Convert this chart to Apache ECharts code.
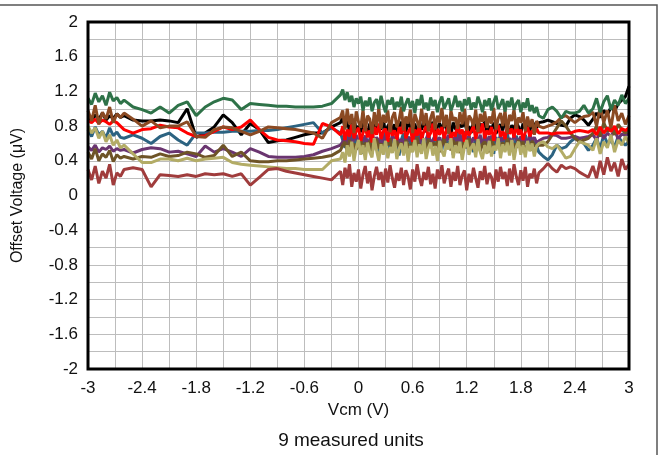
<!DOCTYPE html>
<html>
<head>
<meta charset="utf-8">
<script src="https://cdn.jsdelivr.net/npm/echarts@6/dist/echarts.min.js"></script>
<style>html,body{margin:0;padding:0;background:#fff}#c{width:660px;height:455px}</style>
</head>
<body>
<div id="c"></div>
<script>
// Vcm sample points (V)
const vcm = [
 -3.00,-2.96,-2.92,-2.88,-2.84,-2.80,-2.76,-2.72,-2.68,-2.64,-2.60,
 -2.50,-2.40,-2.30,-2.20,-2.10,-2.00,-1.90,-1.80,-1.70,-1.60,-1.50,-1.40,-1.30,-1.20,-1.10,-1.00,-0.90,-0.80,-0.70,-0.60,-0.50,-0.40,-0.30,
 -0.200,-0.175,-0.150,-0.125,-0.100,-0.075,-0.050,-0.025,
 0.000,0.025,0.050,0.075,0.100,0.125,0.150,0.175,
 0.200,0.225,0.250,0.275,0.300,0.325,0.350,0.375,
 0.400,0.425,0.450,0.475,0.500,0.525,0.550,0.575,
 0.600,0.625,0.650,0.675,0.700,0.725,0.750,0.775,
 0.800,0.825,0.850,0.875,0.900,0.925,0.950,0.975,
 1.000,1.025,1.050,1.075,1.100,1.125,1.150,1.175,
 1.200,1.225,1.250,1.275,1.300,1.325,1.350,1.375,
 1.400,1.425,1.450,1.475,1.500,1.525,1.550,1.575,
 1.600,1.625,1.650,1.675,1.700,1.725,1.750,1.775,
 1.800,1.825,1.850,1.875,1.900,1.925,1.950,1.975,
 2.000,
 2.05,2.10,2.15,2.20,2.25,2.30,2.35,2.40,2.45,2.50,2.55,
 2.60,2.64,2.68,2.72,2.76,2.80,2.84,2.88,2.92,2.96,3.00
];
// Offset voltage of each measured unit (uV)
const unitGreen = [
 1.12,1.05,1.18,1.08,1.15,1.04,1.19,1.09,1.13,1.06,1.10,
 1.02,0.99,0.95,1.02,0.95,1.04,1.08,0.92,1.02,1.08,1.12,1.10,0.99,1.06,1.05,1.04,1.03,1.03,1.02,1.02,1.02,1.03,1.06,
 1.16,1.22,1.10,1.19,1.08,1.15,1.02,1.12,
 1.06,1.14,0.98,1.09,1.03,1.13,0.97,1.07,
 1.11,1.00,1.15,1.04,0.96,1.10,1.05,1.13,
 0.99,1.08,1.02,1.14,0.97,1.06,1.12,1.01,
 1.09,0.95,1.11,1.04,1.16,1.00,1.07,0.98,
 1.13,1.03,1.10,0.96,1.08,1.14,1.00,1.06,
 1.12,0.98,1.05,1.15,1.02,1.09,0.97,1.11,
 1.04,1.13,0.99,1.07,1.01,1.14,1.06,0.96,
 1.10,1.03,1.12,0.98,1.08,1.15,1.00,1.05,
 1.11,0.97,1.09,1.02,1.13,0.99,1.06,1.10,
 0.96,1.07,1.01,1.12,0.97,1.04,0.95,1.02,
 0.92,
 0.89,0.99,1.02,0.97,0.89,0.97,0.95,0.95,0.97,1.04,0.95,
 1.00,1.12,0.96,1.08,1.15,0.99,1.10,1.04,1.16,1.06,1.12
];
const unitBlack = [
 0.90,0.86,0.93,0.88,0.95,0.87,0.92,0.89,0.94,0.90,0.92,
 0.87,0.86,0.86,0.87,0.86,0.84,1.00,0.67,0.72,0.79,0.93,0.84,0.70,0.83,0.76,0.61,0.63,0.64,0.67,0.70,0.72,0.72,0.79,
 0.84,0.90,0.78,0.86,0.74,0.82,0.88,0.76,
 0.80,0.73,0.85,0.79,0.71,0.83,0.77,0.86,
 0.74,0.81,0.76,0.87,0.72,0.80,0.84,0.75,
 0.82,0.70,0.79,0.85,0.77,0.73,0.86,0.78,
 0.74,0.83,0.71,0.80,0.76,0.88,0.73,0.81,
 0.78,0.85,0.72,0.79,0.83,0.74,0.87,0.76,
 0.81,0.70,0.84,0.77,0.73,0.82,0.79,0.86,
 0.75,0.80,0.72,0.85,0.78,0.74,0.83,0.77,
 0.86,0.73,0.80,0.76,0.84,0.71,0.79,0.82,
 0.75,0.87,0.78,0.73,0.81,0.76,0.85,0.79,
 0.72,0.83,0.77,0.80,0.74,0.86,0.81,0.78,
 0.84,
 0.85,0.87,0.85,0.83,0.81,0.80,0.89,0.93,0.91,0.87,0.81,
 0.88,0.95,0.90,0.98,0.93,1.02,0.97,1.06,1.10,1.14,1.26
];
const unitRed = [
 0.86,0.84,0.88,0.83,0.87,0.85,0.82,0.86,0.84,0.80,0.76,
 0.72,0.76,0.77,0.81,0.79,0.78,0.72,0.68,0.69,0.74,0.79,0.76,0.79,0.87,0.76,0.67,0.64,0.63,0.62,0.60,0.59,0.83,0.79,
 0.70,0.80,0.64,0.76,0.68,0.82,0.66,0.74,
 0.78,0.63,0.72,0.80,0.67,0.75,0.61,0.79,
 0.70,0.83,0.65,0.74,0.77,0.62,0.81,0.69,
 0.75,0.64,0.79,0.71,0.84,0.66,0.73,0.78,
 0.62,0.76,0.69,0.81,0.65,0.74,0.80,0.67,
 0.72,0.83,0.63,0.77,0.70,0.79,0.66,0.75,
 0.81,0.64,0.73,0.68,0.82,0.71,0.76,0.62,
 0.78,0.69,0.74,0.80,0.65,0.77,0.72,0.83,
 0.66,0.75,0.70,0.79,0.63,0.76,0.81,0.68,
 0.74,0.65,0.80,0.71,0.77,0.67,0.82,0.70,
 0.76,0.64,0.73,0.79,0.68,0.75,0.71,0.77,
 0.72,
 0.72,0.72,0.71,0.72,0.72,0.72,0.72,0.74,0.75,0.74,0.73,
 0.76,0.70,0.79,0.72,0.78,0.74,0.80,0.71,0.77,0.75,0.78
];
const unitTeal = [
 0.76,0.68,0.79,0.70,0.74,0.66,0.78,0.69,0.73,0.67,0.66,
 0.70,0.66,0.60,0.68,0.72,0.64,0.58,0.72,0.72,0.73,0.73,0.74,0.74,0.74,0.75,0.75,0.76,0.78,0.80,0.82,0.84,0.72,0.78,
 0.72,0.64,0.55,0.70,0.60,0.74,0.52,0.66,
 0.58,0.71,0.48,0.68,0.62,0.55,0.73,0.60,
 0.66,0.50,0.69,0.57,0.75,0.62,0.53,0.70,
 0.59,0.67,0.46,0.64,0.72,0.56,0.68,0.61,
 0.51,0.70,0.63,0.74,0.55,0.66,0.49,0.69,
 0.62,0.57,0.73,0.60,0.67,0.52,0.71,0.64,
 0.56,0.69,0.47,0.65,0.72,0.58,0.63,0.74,
 0.54,0.68,0.61,0.50,0.70,0.59,0.66,0.55,
 0.73,0.62,0.57,0.69,0.48,0.67,0.60,0.71,
 0.53,0.65,0.72,0.58,0.63,0.51,0.69,0.61,
 0.67,0.55,0.70,0.59,0.64,0.52,0.62,0.57,
 0.50,
 0.45,0.41,0.47,0.58,0.54,0.56,0.62,0.66,0.64,0.60,0.52,
 0.58,0.66,0.54,0.70,0.60,0.64,0.56,0.68,0.62,0.58,0.63
];
const unitBrown = [
 0.98,0.86,1.04,0.82,0.96,0.88,1.02,0.84,0.94,0.90,0.95,
 0.88,0.80,0.86,0.78,0.80,0.80,0.85,0.68,0.67,0.76,0.79,0.78,0.74,0.70,0.74,0.79,0.78,0.77,0.76,0.74,0.72,0.66,0.84,
 0.90,0.98,0.76,1.00,0.82,0.94,0.72,0.97,
 0.85,0.78,0.99,0.74,0.92,0.88,0.71,0.96,
 0.80,1.01,0.77,0.93,0.84,0.98,0.73,0.90,
 0.96,0.79,0.87,1.02,0.75,0.91,0.83,0.99,
 0.72,0.94,0.86,0.78,1.00,0.81,0.95,0.74,
 0.89,0.97,0.76,0.92,0.84,1.01,0.79,0.93,
 0.71,0.98,0.86,0.90,0.77,0.96,0.82,1.00,
 0.75,0.92,0.88,0.80,0.99,0.73,0.94,0.85,
 0.97,0.78,0.91,0.83,1.01,0.76,0.89,0.95,
 0.80,0.98,0.72,0.93,0.86,0.99,0.77,0.90,
 0.84,0.96,0.74,0.91,0.79,0.88,0.70,0.86,
 0.80,
 0.78,0.80,0.82,0.85,0.90,0.92,0.88,0.84,0.88,0.91,0.92,
 0.96,0.80,1.02,0.84,0.98,0.78,1.04,0.86,0.95,0.82,0.92
];
const unitPurple = [
 0.56,0.52,0.58,0.50,0.55,0.53,0.57,0.51,0.54,0.52,0.53,
 0.49,0.53,0.55,0.54,0.50,0.51,0.48,0.45,0.57,0.50,0.54,0.50,0.45,0.54,0.50,0.45,0.44,0.44,0.44,0.45,0.47,0.51,0.54,
 0.58,0.62,0.66,0.57,0.68,0.61,0.64,0.70,
 0.59,0.66,0.62,0.69,0.57,0.65,0.71,0.60,
 0.67,0.63,0.58,0.70,0.62,0.66,0.59,0.68,
 0.64,0.71,0.60,0.65,0.57,0.69,0.63,0.67,
 0.61,0.68,0.66,0.58,0.70,0.62,0.65,0.72,
 0.59,0.64,0.69,0.61,0.67,0.57,0.66,0.63,
 0.70,0.60,0.65,0.68,0.58,0.71,0.62,0.66,
 0.63,0.69,0.59,0.67,0.64,0.61,0.70,0.57,
 0.66,0.62,0.68,0.60,0.72,0.64,0.59,0.67,
 0.63,0.70,0.58,0.66,0.61,0.69,0.65,0.60,
 0.68,0.62,0.66,0.59,0.71,0.63,0.67,0.61,
 0.63,
 0.66,0.67,0.70,0.69,0.66,0.66,0.67,0.68,0.66,0.67,0.68,
 0.70,0.64,0.74,0.66,0.72,0.68,0.76,0.65,0.71,0.69,0.72
];
const unitOlive = [
 0.50,0.42,0.54,0.40,0.48,0.44,0.52,0.39,0.47,0.43,0.45,
 0.42,0.45,0.44,0.48,0.45,0.46,0.50,0.48,0.44,0.46,0.58,0.45,0.50,0.40,0.39,0.39,0.40,0.40,0.41,0.42,0.43,0.44,0.46,
 0.52,0.58,0.62,0.50,0.64,0.55,0.60,0.53,
 0.57,0.66,0.51,0.61,0.56,0.63,0.49,0.59,
 0.65,0.54,0.60,0.52,0.62,0.58,0.66,0.50,
 0.57,0.63,0.55,0.61,0.48,0.64,0.59,0.53,
 0.62,0.56,0.67,0.52,0.58,0.60,0.51,0.65,
 0.55,0.61,0.57,0.63,0.50,0.59,0.66,0.54,
 0.60,0.52,0.64,0.57,0.62,0.49,0.58,0.63,
 0.55,0.66,0.53,0.60,0.56,0.64,0.51,0.59,
 0.62,0.57,0.50,0.65,0.58,0.54,0.63,0.56,
 0.61,0.53,0.66,0.58,0.52,0.60,0.55,0.64,
 0.57,0.62,0.51,0.59,0.55,0.63,0.58,0.56,
 0.58,
 0.58,0.62,0.70,0.78,0.86,0.80,0.72,0.66,0.62,0.64,0.66,
 0.72,0.80,0.68,0.84,0.74,0.78,0.70,0.82,0.76,0.72,0.78
];
const unitKhaki = [
 0.80,0.72,0.78,0.66,0.74,0.62,0.70,0.58,0.64,0.55,0.58,
 0.48,0.38,0.38,0.42,0.42,0.40,0.43,0.40,0.42,0.43,0.44,0.38,0.36,0.35,0.34,0.33,0.32,0.31,0.31,0.30,0.30,0.30,0.40,
 0.42,0.50,0.38,0.58,0.45,0.62,0.40,0.55,
 0.64,0.47,0.58,0.41,0.61,0.50,0.44,0.66,
 0.52,0.40,0.59,0.47,0.63,0.43,0.56,0.49,
 0.65,0.42,0.54,0.60,0.46,0.62,0.39,0.57,
 0.50,0.64,0.44,0.59,0.48,0.66,0.42,0.55,
 0.61,0.46,0.57,0.40,0.63,0.51,0.45,0.60,
 0.53,0.66,0.43,0.58,0.49,0.62,0.41,0.56,
 0.64,0.47,0.55,0.60,0.44,0.65,0.50,0.42,
 0.58,0.48,0.63,0.45,0.57,0.52,0.66,0.43,
 0.59,0.50,0.61,0.46,0.64,0.41,0.56,0.62,
 0.47,0.58,0.44,0.63,0.51,0.60,0.45,0.57,
 0.60,
 0.62,0.56,0.54,0.58,0.51,0.43,0.45,0.54,0.62,0.60,0.58,
 0.52,0.66,0.48,0.62,0.55,0.70,0.50,0.64,0.58,0.68,0.60
];
const unitDarkRed = [
 0.30,0.18,0.34,0.14,0.28,0.20,0.36,0.12,0.26,0.22,0.30,
 0.32,0.30,0.10,0.24,0.23,0.22,0.24,0.22,0.25,0.24,0.25,0.22,0.25,0.12,0.21,0.30,0.31,0.28,0.26,0.24,0.22,0.20,0.18,
 0.28,0.12,0.32,0.20,0.36,0.10,0.26,0.16,
 0.30,0.08,0.24,0.34,0.14,0.28,0.06,0.22,
 0.33,0.18,0.27,0.10,0.31,0.15,0.35,0.20,
 0.09,0.26,0.17,0.32,0.12,0.29,0.22,0.07,
 0.30,0.16,0.36,0.21,0.11,0.27,0.18,0.33,
 0.13,0.25,0.08,0.30,0.19,0.35,0.14,0.24,
 0.31,0.10,0.27,0.17,0.34,0.12,0.23,0.29,
 0.06,0.25,0.15,0.32,0.20,0.09,0.28,0.18,
 0.34,0.13,0.26,0.21,0.08,0.30,0.16,0.33,
 0.19,0.27,0.11,0.31,0.15,0.36,0.22,0.12,
 0.29,0.17,0.33,0.10,0.25,0.20,0.31,0.14,
 0.26,
 0.31,0.37,0.31,0.27,0.35,0.31,0.33,0.31,0.27,0.24,0.21,
 0.34,0.20,0.40,0.24,0.44,0.28,0.38,0.22,0.42,0.30,0.36
];

const units = [
  {name:'Unit 1', vals:unitBlack,   color:'#000000'},
  {name:'Unit 2', vals:unitTeal,    color:'#2c6381'},
  {name:'Unit 3', vals:unitPurple,  color:'#6a3570'},
  {name:'Unit 4', vals:unitOlive,   color:'#6e5427'},
  {name:'Unit 5', vals:unitRed,     color:'#ff0000'},
  {name:'Unit 6', vals:unitBrown,   color:'#8b4a23'},
  {name:'Unit 7', vals:unitKhaki,   color:'#b3ac66'},
  {name:'Unit 8', vals:unitDarkRed, color:'#a03c3c'},
  {name:'Unit 9', vals:unitGreen,   color:'#2e7248'}
];

const font = 'Liberation Sans, Arial, sans-serif';
const chart = echarts.init(document.getElementById('c'), null, {renderer:'canvas'});
chart.setOption({
  animation:false,
  backgroundColor:'#fff',
  graphic:[
    {type:'rect', shape:{x:-10, y:5, width:667, height:470}, style:{fill:'none', stroke:'#555', lineWidth:1.5}, silent:true},
    {type:'text', x:351, y:441, style:{text:'9 measured units', align:'center', verticalAlign:'middle', font:'19px ' + font, fill:'#111'}, silent:true}
  ],
  grid:{left:88, right:31, top:22, bottom:86, show:true, borderColor:'#000', borderWidth:3, backgroundColor:'transparent', z:10},
  xAxis:{type:'value', min:-3, max:3, interval:0.6,
    name:'Vcm (V)', nameLocation:'middle', nameGap:30,
    nameTextStyle:{fontFamily:font, fontSize:17, color:'#111'},
    axisLine:{show:false}, axisTick:{show:false},
    axisLabel:{fontFamily:font, fontSize:17, color:'#111', margin:11, formatter:v=>String(+v.toFixed(1))},
    splitLine:{show:true, lineStyle:{color:'#bdbdbd', width:1}},
    minorTick:{show:false, splitNumber:2},
    minorSplitLine:{show:true, lineStyle:{color:'#bdbdbd', width:1}}
  },
  yAxis:{type:'value', min:-2, max:2, interval:0.4,
    name:'Offset Voltage (\u03BCV)', nameLocation:'middle', nameGap:62,
    nameTextStyle:{fontFamily:font, fontSize:16, color:'#111'},
    axisLine:{show:false}, axisTick:{show:false},
    axisLabel:{fontFamily:font, fontSize:17, color:'#111', margin:10, formatter:v=>String(+v.toFixed(1))},
    splitLine:{show:true, lineStyle:{color:'#bdbdbd', width:1}},
    minorTick:{show:false, splitNumber:2},
    minorSplitLine:{show:true, lineStyle:{color:'#bdbdbd', width:1}}
  },
  series: units.map(u=>({
    name:u.name, type:'line', symbol:'none', smooth:false,
    lineStyle:{color:u.color, width:3}, itemStyle:{color:u.color},
    data: vcm.map((x,i)=>[x, u.vals[i]])
  }))
});
</script>
</body>
</html>
